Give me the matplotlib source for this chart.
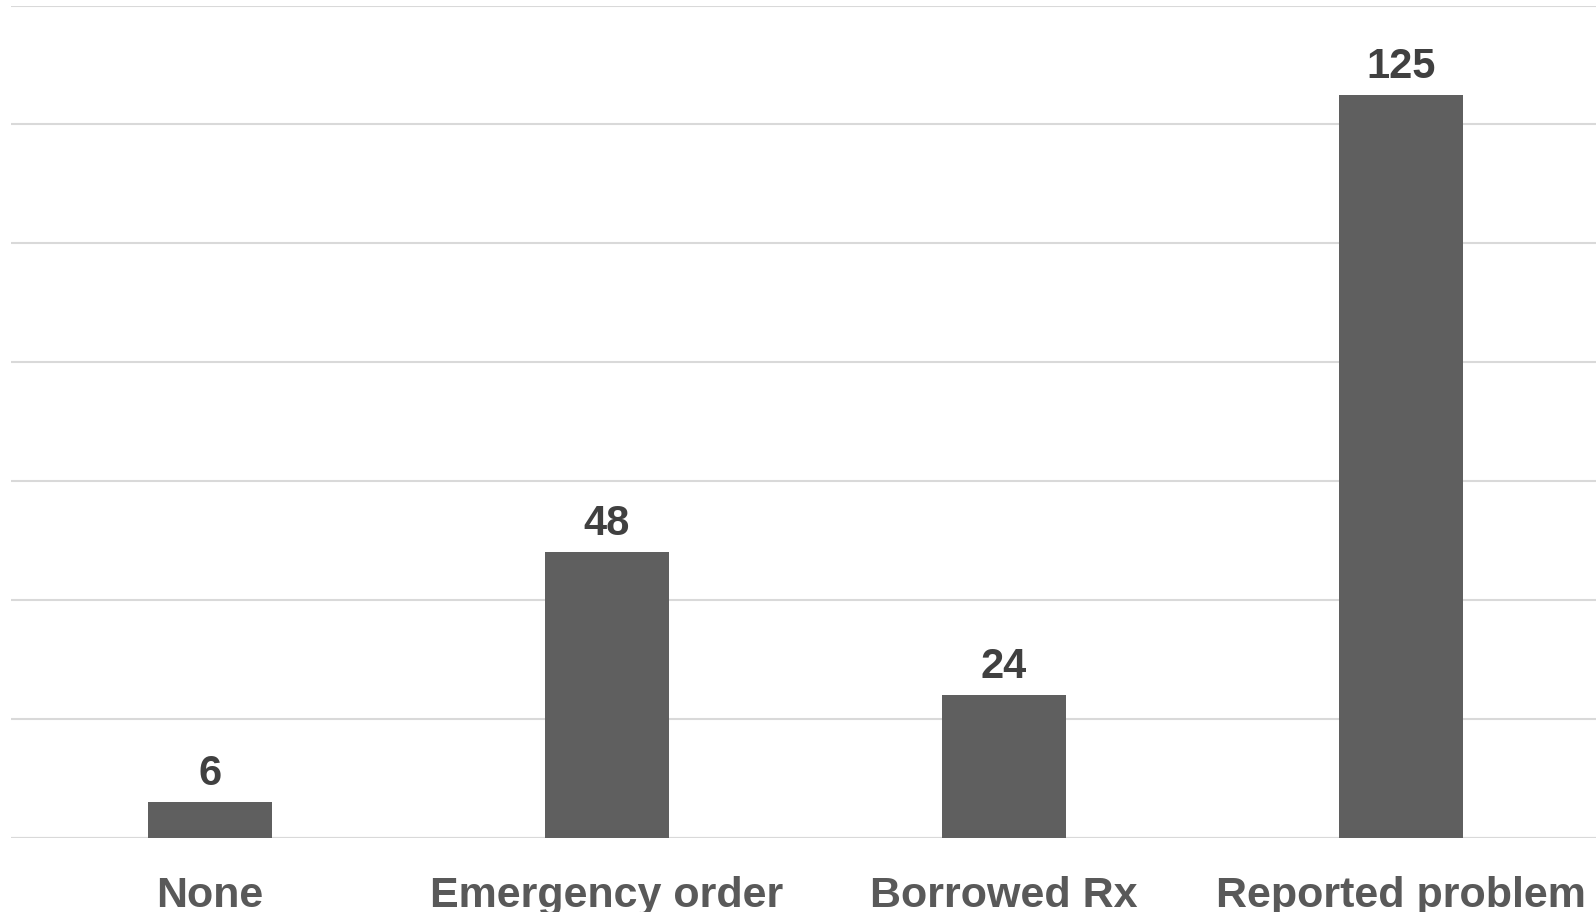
import matplotlib
matplotlib.use("Agg")
import matplotlib.pyplot as plt

categories = ["None", "Emergency order", "Borrowed Rx", "Reported problem"]
values = [6, 48, 24, 125]
yticks = [0, 20, 40, 60, 80, 100, 120, 140]

plt.rcParams['font.family'] = ['Liberation Sans', 'DejaVu Sans']

fig = plt.figure(figsize=(15.96, 9.125), dpi=100)
W, H = 1596, 912.5
ax_left, ax_right = 11, 1600
ax_top, ax_bottom = 6, 838
ax = fig.add_axes([ax_left / W, 1 - ax_bottom / H, (ax_right - ax_left) / W, (ax_bottom - ax_top) / H])

x = list(range(len(categories)))
bars = ax.bar(x, values, width=0.312, color="#5f5f5f", zorder=3)
ax.set_xlim(-0.5, 3.5)
ax.set_ylim(0, 140)
ax.set_yticks(yticks)
ax.yaxis.grid(True, color="#d9d9d9", linewidth=1.5, zorder=0)
ax.set_axisbelow(True)
ax.tick_params(axis='y', left=False, labelleft=False)
ax.tick_params(axis='x', bottom=False, pad=24)
ax.set_xticks(x)
ax.set_xticklabels(categories, fontsize=31, fontweight='bold', color="#595959")
for s in ax.spines.values():
    s.set_visible(False)
ax.axhline(0, color="#d9d9d9", linewidth=1.5, zorder=2)

for b, v in zip(bars, values):
    ax.annotate(str(v), (b.get_x() + b.get_width() / 2, v), xytext=(0, 6),
                textcoords='offset points', ha='center', va='bottom',
                fontsize=30, fontweight='bold', color="#404040")

fig.savefig("out.png", dpi=100, facecolor="white")
